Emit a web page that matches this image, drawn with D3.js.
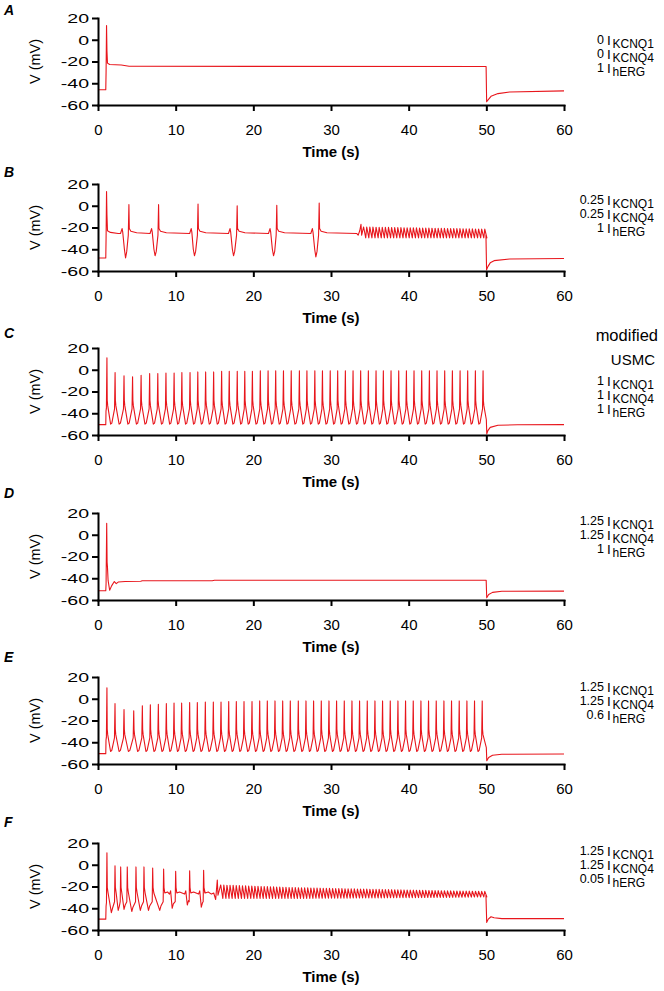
<!DOCTYPE html>
<html><head><meta charset="utf-8">
<script src="https://cdn.jsdelivr.net/npm/d3@7/dist/d3.min.js"></script>
<style>body{margin:0;background:#fff}svg{display:block}</style>
</head><body><svg id="c" width="664" height="991"></svg>
<script>
// ---------- data ----------
const panelLetters = ["A","B","C","D","E","F"];
const xTicks = [0,10,20,30,40,50,60];
const xTickLabels = ["0","10","20","30","40","50","60"];
const yTicks = [20,0,-20,-40,-60];
const yTickLabels = ["20","0","-20","-40","-60"];
const kcnq1 = ["0","0.25","1","1.25","1.25","1.25"];
const kcnq4 = ["0","0.25","1","1.25","1.25","1.25"];
const herg  = ["1","1","1","1","0.6","0.05"];

// Panel A trace (time s, V mV)
const traceA = [[0,-46],[1.0,-46],[1.04,-30],[1.1,13],[1.15,-10],[1.22,-21.5],[1.5,-22.8],[3.0,-23.2],[4.0,-24.4],[49.97,-24.6],[50.04,-57],[50.2,-55.5],[50.6,-52],[51.5,-49.5],[53,-48],[60,-47]];

// Panel B
const bStart = [[0,-48],[1.0,-48],[1.04,-30],[1.1,13],[1.15,-8],[1.22,-23],[1.6,-24.5],[2.6,-25.5]];
const bBumpT   = [3.1, 6.9, 12.0, 17.0, 22.15, 27.6];
const bTroughT = [3.55, 7.35, 12.42, 17.45, 22.6, 28.05];
const bTroughV = [-48, -46, -46, -46, -46, -47];
const bSpikeT  = [3.98, 7.8, 12.88, 17.92, 23.02, 28.48];
const bSpikeV  = [1, 1, 1.5, 0, 0.5, 2.5];
const bMid = [[33.3,-25.5],[33.5,-27],[33.7,-23],[33.86,-17],[33.95,-27]];
const bOscT = [34.2,34.6,35,35.4,35.8,36.2,36.6,37,37.4,37.8,38.2,38.6,39,39.4,39.8,40.2,40.6,41,41.4,41.8,42.2,42.6,43,43.4,43.8,44.2,44.6,45,45.4,45.8,46.2,46.6,47,47.4,47.8,48.2,48.6,49,49.4,49.8];
const bEnvT = [34, 50], bEnvPeak = [-19.5, -21.5], bEnvTrough = [-29.5, -29.5];
const bEnd = [[49.95,-27],[50.03,-59],[50.2,-56],[50.5,-52.5],[51,-50.5],[53,-49],[60,-48.5]];

// Panel C
const cStart = [[0,-50.5],[1.0,-50.5],[1.03,-38],[1.08,-35]];
const cSpikeT = [1.15,2.2,3.35,4.45,5.55,6.65,7.7,8.75,9.8,10.8,11.85,12.85,13.86,14.89,15.92,16.9,17.93,18.9,19.88,20.9,21.9,22.88,23.88,24.88,25.93,26.9,27.92,28.9,29.9,30.86,31.85,32.84,33.82,34.81,35.8,36.74,37.73,38.72,39.71,40.69,41.68,42.67,43.65,44.64,45.63,46.62,47.6,48.59,49.58];
const cSpikeV = [11,-2.5,-5.5,-6.5,-5,-3.5,-3.5,-3,-3,-2.5,-2.5,-2,-2,-2,-1.5,-1.5,-1.5,-1.5,-1.5,-1,-1,-1,-1,-1,-1,-1,-1,-1,-1,-1,-1,-1,-1,-1,-1,-1,-1,-1,-1,-1,-1,-1,-1,-1,-1,-1,-1,-1,-1];
const cEnd = [[50.0,-46],[50.06,-59],[50.2,-56],[50.5,-53],[51.5,-51],[54,-50.6],[60,-50.5]];

// Panel D
const traceD = [[0,-51.5],[1.0,-51.5],[1.04,-45],[1.12,10.5],[1.17,-25],[1.22,-30],[1.3,-42],[1.5,-51],[1.75,-47],[2.1,-43],[2.35,-45],[2.6,-43.5],[3.5,-43],[5.5,-42.8],[5.7,-42.3],[14.7,-42.3],[15,-41.8],[49.98,-41.8],[50.05,-58],[50.3,-55],[50.8,-53],[52,-52],[60,-51.8]];

// Panel E
const eStart = [[0,-50.5],[1.0,-50.5],[1.03,-38],[1.08,-35]];
const eSpikeT = [1.15,2.19,3.35,4.6,5.71,6.74,7.77,8.8,9.79,10.77,11.8,12.79,13.82,14.85,15.84,16.83,17.81,18.8,19.83,20.82,21.8,22.79,23.78,24.76,25.79,26.78,27.76,28.75,29.74,30.72,31.71,32.7,33.68,34.67,35.66,36.64,37.63,38.62,39.6,40.59,41.58,42.56,43.55,44.54,45.52,46.51,47.5,48.48,49.47];
const eSpikeV = [10,-4.5,-10,-11,-6.5,-5.5,-5,-4.5,-4,-4,-3.5,-3.5,-3,-3,-3,-2.5,-2.5,-2.5,-2.5,-2,-2,-2,-2,-2,-2,-2,-2,-2,-2,-2,-2,-2,-2,-2,-2,-2,-2,-2,-2,-2,-2,-2,-2,-2,-2,-2,-2,-2,-2];
const eEnd = [[50.0,-45],[50.06,-57],[50.3,-54],[50.8,-52],[52,-51],[60,-50.8]];

// Panel F
const fStart = [[0,-50],[1.0,-50],[1.04,-38],[1.1,-34]];
const fSpikeT  = [1.15,2.19,2.92,3.77,4.89,5.92,7.04,8.45,10.0,11.8,13.6];
const fSpikeV  = [11,-1,-2,-2,-2,-2,-3,-4,-6,-5.5,-5];
const fTroughT = [1.72,2.6,3.35,4.35,5.45,6.5,7.95,9.55,11.5,13.3];
const fTroughV = [-44,-42,-41,-43,-42,-42,-42,-40,-37,-39];
const fMid = [[13.65,-21],[13.8,-26],[14.2,-25],[14.6,-27],[14.9,-26],[15.15,-32],[15.36,-14],[15.45,-28]];
const fOscT = [15.8,16.2,16.6,17,17.4,17.8,18.2,18.6,19,19.4,19.8,20.2,20.6,21,21.4,21.8,22.2,22.6,23,23.4,23.8,24.2,24.6,25,25.4,25.8,26.2,26.6,27,27.4,27.8,28.2,28.6,29,29.4,29.8,30.2,30.6,31,31.4,31.8,32.2,32.6,33,33.4,33.8,34.2,34.6,35,35.4,35.8,36.2,36.6,37,37.4,37.8,38.2,38.6,39,39.4,39.8,40.2,40.6,41,41.4,41.8,42.2,42.6,43,43.4,43.8,44.2,44.6,45,45.4,45.8,46.2,46.6,47,47.4,47.8,48.2,48.6,49,49.4,49.8];
const fEnvT = [15.5,25,35,45,50], fEnvPeak = [-18.5,-21,-22.5,-24,-24.5], fEnvTrough = [-31,-31,-30.5,-30,-29.5];
const fEnd = [[49.95,-28],[50.05,-53],[50.25,-50],[50.6,-47.8],[51.0,-48.8],[52,-49.5],[60,-49.5]];

// ---------- builders (shape of each event; values come from arrays above) ----------
function spikeTrain(times, peaks, ramp, shoulder, trough){
  const pts=[];
  times.forEach((t,i)=>{
    pts.push([t-0.07,ramp],[t,peaks[i]],[t+0.04,shoulder],[t+0.1,shoulder-5]);
    const nx=times[i+1];
    if(nx!==undefined){const dt=nx-t; pts.push([t+0.45*dt,trough],[t+0.6*dt,trough+1]);}
  });
  return pts;
}
function bEvents(){
  const pts=[];
  bBumpT.forEach((tb,i)=>{
    const tt=bTroughT[i], ts=bSpikeT[i];
    pts.push([tb-0.2,-25.5],[tb,-21],[tb+0.08,-24],[tt-0.15,-40],[tt,bTroughV[i]],[tt+0.15,-42],[ts-0.08,-27],[ts,bSpikeV[i]],[ts+0.05,-21],[ts+0.25,-23.5],[ts+1.0,-24.8]);
  });
  return pts;
}
function fEvents(){
  const pts=[];
  fSpikeT.forEach((t,i)=>{
    pts.push([t-0.06,-34],[t,fSpikeV[i]],[t+0.05,-21],[t+0.15,-26]);
    const tt=fTroughT[i];
    if(tt!==undefined){
      if(tt-t>1.0){pts.push([t+0.5,-25],[tt-0.35,-27],[tt-0.2,-24]);}
      pts.push([tt,fTroughV[i]],[tt+0.15,fTroughV[i]+4]);
    }
  });
  return pts;
}
function osc(times, envT, envP, envTr){
  const pk=d3.scaleLinear().domain(envT).range(envP);
  const tr=d3.scaleLinear().domain(envT).range(envTr);
  const pts=[];
  times.forEach(t=>{pts.push([t,pk(t)],[t+0.27,tr(t)]);});
  return pts;
}

const traces = [
  traceA,
  [...bStart, ...bEvents(), ...bMid, ...osc(bOscT,bEnvT,bEnvPeak,bEnvTrough), ...bEnd],
  [...cStart, ...spikeTrain(cSpikeT,cSpikeV,-36,-28,-50), ...cEnd],
  traceD,
  [...eStart, ...spikeTrain(eSpikeT,eSpikeV,-36,-28,-48.5), ...eEnd],
  [...fStart, ...fEvents(), ...fMid, ...osc(fOscT,fEnvT,fEnvPeak,fEnvTrough), ...fEnd]
];

// ---------- layout ----------
const font = "'Liberation Sans', Arial, Helvetica, sans-serif";
const panelTop = [18,184,348,513,677,843];
const plotH = 87;
const letterY = [15,177,338,498,662,827];
const labelY = [[45,59,73],[205,219,233],[386,400,414],[526,540,554],[692,706,720],[856,870,884]];
const red = "#e8161c";

const svg = d3.select("#c");
svg.append("rect").attr("width",664).attr("height",991).attr("fill","#fff");
const x = d3.scaleLinear().domain([0,60]).range([98,564]);
const yLabelStretch = 1.45;

panelLetters.forEach((L,i)=>{
  const top=panelTop[i], bot=top+plotH;
  const y = d3.scaleLinear().domain([-60,20]).range([bot,top]);
  const g = svg.append("g");

  g.append("path").datum(traces[i])
    .attr("d", d3.line().x(d=>x(d[0])).y(d=>y(d[1])))
    .attr("fill","none").attr("stroke",red).attr("stroke-width",1.1).attr("stroke-linejoin","round");

  const ya = g.append("g").attr("transform",`translate(${x(0)},0)`)
    .call(d3.axisLeft(y).tickValues(yTicks).tickFormat((d,j)=>yTickLabels[j]).tickSize(6).tickSizeOuter(0).tickPadding(3));
  const xa = g.append("g").attr("transform",`translate(0,${bot})`)
    .call(d3.axisBottom(x).tickValues(xTicks).tickFormat((d,j)=>xTickLabels[j]).tickSize(6).tickSizeOuter(0).tickPadding(13));
  [ya,xa].forEach(a=>{
    a.attr("font-family",font).attr("font-size",15);
    a.select(".domain").attr("stroke","#000").attr("stroke-width",2).attr("stroke-linecap","square");
    a.selectAll(".tick line").attr("stroke","#000").attr("stroke-width",2);
    a.selectAll(".tick text").attr("fill","#000");
  });
  ya.selectAll(".tick text").attr("font-size",13.5)
    .attr("x",-9/yLabelStretch).attr("transform",`scale(${yLabelStretch},1)`);

  g.append("text").attr("transform",`translate(40,${(top+bot)/2}) rotate(-90)`)
    .attr("text-anchor","middle").attr("font-family",font).attr("font-size",14.5).text("V (mV)");
  g.append("text").attr("x",x(30)).attr("y",bot+52).attr("text-anchor","middle")
    .attr("font-family",font).attr("font-size",15).attr("font-weight","bold").text("Time (s)");

  g.append("text").attr("x",4).attr("y",letterY[i]).attr("font-family",font)
    .attr("font-size",14).attr("font-weight","bold").attr("font-style","italic").text(L);

  // conductance labels: one text per row
  const rows=[[kcnq1[i],"KCNQ1"],[kcnq4[i],"KCNQ4"],[herg[i],"hERG"]];
  rows.forEach((r,k)=>{
    const by=labelY[i][k];
    const t=g.append("text").attr("font-family",font).attr("fill","#000");
    t.append("tspan").attr("x",604).attr("y",by-1.5).attr("text-anchor","end").attr("font-size",12.5).text(r[0]);
    t.append("tspan").attr("x",607).attr("y",by).attr("font-size",13.5).text("I");
    t.append("tspan").attr("x",612.5).attr("y",by+2.5).attr("font-size",12).text(r[1]);
  });
  if(i===2){
    g.append("text").attr("x",658).attr("y",341).attr("text-anchor","end")
      .attr("font-family",font).attr("font-size",16.5).text("modified");
    g.append("text").attr("x",655).attr("y",365).attr("text-anchor","end")
      .attr("font-family",font).attr("font-size",15).text("USMC");
  }
});
</script></body></html>
